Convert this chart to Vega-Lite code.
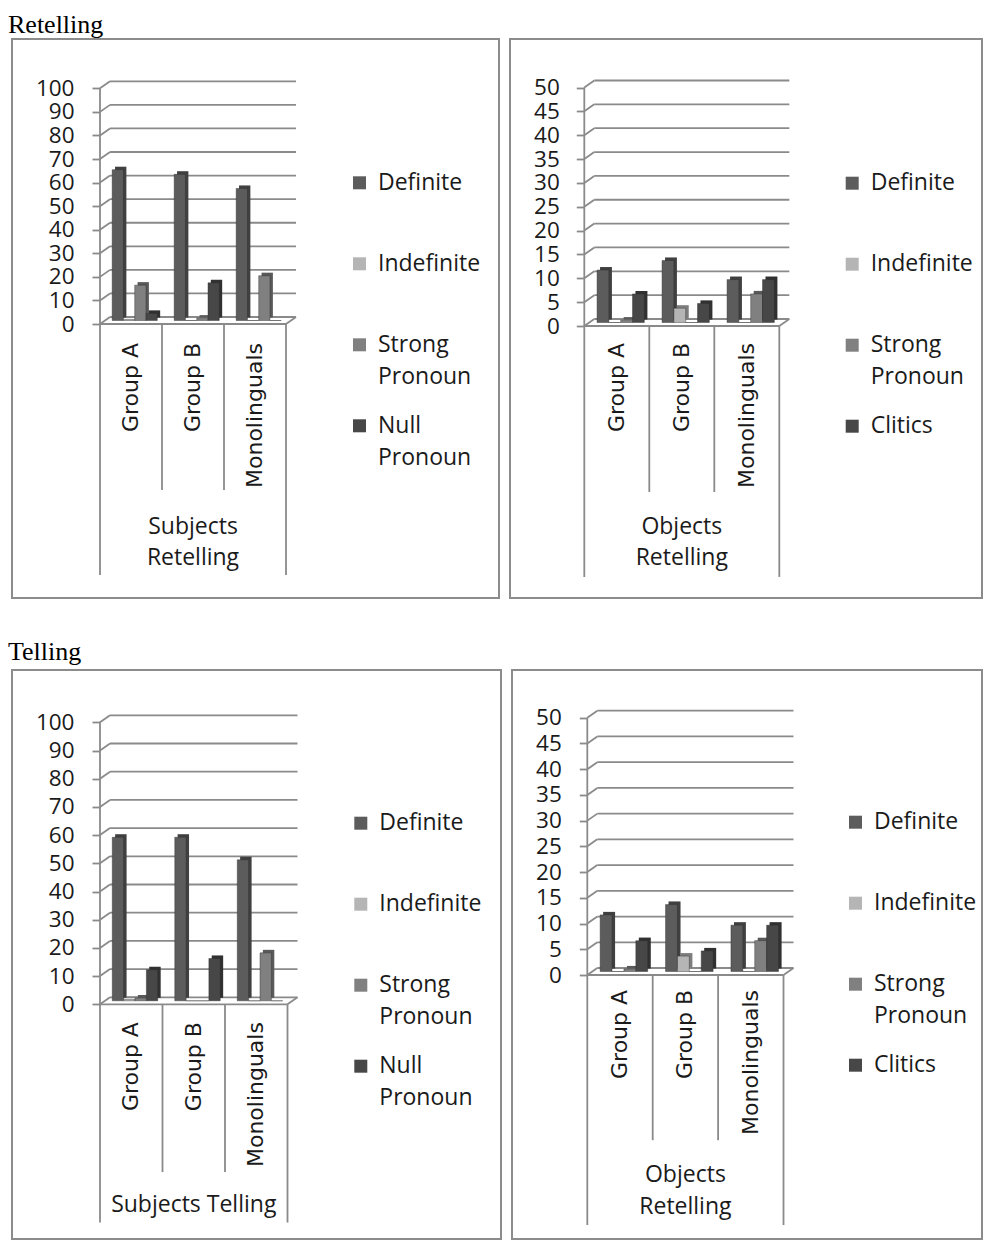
{
  "$schema": "https://vega.github.io/schema/vega-lite/v6.json",
  "padding": {"top": 12, "left": 8, "right": 0, "bottom": 0},
  "config": {
    "view": {"stroke": "#8c8c8c", "strokeWidth": 2},
    "font": "Open Sans",
    "style": {"guide-label": {"lineHeight": 32}}
  },
  "datasets": {
    "subjRet": [
      {"group": "Group A", "series": "Definite", "value": 64},
      {"group": "Group A", "series": "Indefinite", "value": 0.5},
      {"group": "Group A", "series": "Strong Pronoun", "value": 15},
      {"group": "Group A", "series": "Null Pronoun", "value": 3},
      {"group": "Group B", "series": "Definite", "value": 62},
      {"group": "Group B", "series": "Indefinite", "value": 0},
      {"group": "Group B", "series": "Strong Pronoun", "value": 1},
      {"group": "Group B", "series": "Null Pronoun", "value": 16},
      {"group": "Monolinguals", "series": "Definite", "value": 56},
      {"group": "Monolinguals", "series": "Indefinite", "value": 0},
      {"group": "Monolinguals", "series": "Strong Pronoun", "value": 19},
      {"group": "Monolinguals", "series": "Null Pronoun", "value": 0}
    ],
    "objRet": [
      {"group": "Group A", "series": "Definite", "value": 11},
      {"group": "Group A", "series": "Indefinite", "value": 0},
      {"group": "Group A", "series": "Strong Pronoun", "value": 0.5},
      {"group": "Group A", "series": "Clitics", "value": 6},
      {"group": "Group B", "series": "Definite", "value": 13},
      {"group": "Group B", "series": "Indefinite", "value": 3},
      {"group": "Group B", "series": "Strong Pronoun", "value": 0},
      {"group": "Group B", "series": "Clitics", "value": 4},
      {"group": "Monolinguals", "series": "Definite", "value": 9},
      {"group": "Monolinguals", "series": "Indefinite", "value": 0},
      {"group": "Monolinguals", "series": "Strong Pronoun", "value": 6},
      {"group": "Monolinguals", "series": "Clitics", "value": 9}
    ],
    "subjTel": [
      {"group": "Group A", "series": "Definite", "value": 58},
      {"group": "Group A", "series": "Indefinite", "value": 0.5},
      {"group": "Group A", "series": "Strong Pronoun", "value": 1},
      {"group": "Group A", "series": "Null Pronoun", "value": 11},
      {"group": "Group B", "series": "Definite", "value": 58},
      {"group": "Group B", "series": "Indefinite", "value": 0},
      {"group": "Group B", "series": "Strong Pronoun", "value": 0},
      {"group": "Group B", "series": "Null Pronoun", "value": 15},
      {"group": "Monolinguals", "series": "Definite", "value": 50},
      {"group": "Monolinguals", "series": "Indefinite", "value": 0},
      {"group": "Monolinguals", "series": "Strong Pronoun", "value": 17},
      {"group": "Monolinguals", "series": "Null Pronoun", "value": 0}
    ],
    "objTel": [
      {"group": "Group A", "series": "Definite", "value": 11},
      {"group": "Group A", "series": "Indefinite", "value": 0},
      {"group": "Group A", "series": "Strong Pronoun", "value": 0.5},
      {"group": "Group A", "series": "Clitics", "value": 6},
      {"group": "Group B", "series": "Definite", "value": 13},
      {"group": "Group B", "series": "Indefinite", "value": 3},
      {"group": "Group B", "series": "Strong Pronoun", "value": 0},
      {"group": "Group B", "series": "Clitics", "value": 4},
      {"group": "Monolinguals", "series": "Definite", "value": 9},
      {"group": "Monolinguals", "series": "Indefinite", "value": 0},
      {"group": "Monolinguals", "series": "Strong Pronoun", "value": 6},
      {"group": "Monolinguals", "series": "Clitics", "value": 9}
    ],
    "grid100": [{"v": 0}, {"v": 10}, {"v": 20}, {"v": 30}, {"v": 40}, {"v": 50}, {"v": 60}, {"v": 70}, {"v": 80}, {"v": 90}, {"v": 100}],
    "grid50": [{"v": 0}, {"v": 5}, {"v": 10}, {"v": 15}, {"v": 20}, {"v": 25}, {"v": 30}, {"v": 35}, {"v": 40}, {"v": 45}, {"v": 50}],
    "one": [{"k": 1}]
  },
  "spacing": 40,
  "resolve": {"scale": {"x": "independent", "y": "independent", "color": "independent", "xOffset": "independent"}, "legend": {"color": "independent"}},
  "vconcat": [
    {
      "title": {"text": "Retelling", "anchor": "start", "font": "Liberation Serif", "fontSize": 26, "fontWeight": "normal", "color": "#000000", "offset": 0, "dx": -3},
      "spacing": 9,
      "resolve": {"scale": {"x": "independent", "y": "independent", "color": "independent", "xOffset": "independent"}, "legend": {"color": "independent"}},
      "hconcat": [
        {
          "width": 487, "height": 559,
          "resolve": {"scale": {"x": "independent"}},
          "layer": [
            {
              "layer": [
                {"data": {"name": "grid100"},
                 "mark": {"type": "rule", "color": "#8a8a8a", "strokeWidth": 1.8, "xOffset": 10, "x2Offset": 10, "yOffset": -7, "y2Offset": -7},
                 "encoding": {
                   "x": {"datum": 0, "type": "quantitative", "scale": {"domain": [-1.4194, 6.4355], "nice": false, "zero": false}, "axis": null},
                   "x2": {"datum": 3},
                   "y": {"field": "v", "type": "quantitative", "scale": {"domain": [-116.25, 120.92], "nice": false, "zero": false},
                         "axis": {"orient": "left", "values": [0, 10, 20, 30, 40, 50, 60, 70, 80, 90, 100], "offset": -88, "domain": false, "grid": false, "tickSize": 8, "tickColor": "#8a8a8a", "tickWidth": 1.8, "labelPadding": 18, "labelFont": "Open Sans", "labelFontSize": 22.5, "labelColor": "#1a1a1a", "labelOverlap": false, "labelFlush": false, "title": null}},
                   "y2": {"field": "v"}}},
                {"data": {"name": "grid100"},
                 "mark": {"type": "rule", "color": "#8a8a8a", "strokeWidth": 1.8, "x2Offset": 10, "y2Offset": -7},
                 "encoding": {
                   "x": {"datum": 0, "type": "quantitative", "scale": {"domain": [-1.4194, 6.4355], "nice": false, "zero": false}, "axis": null},
                   "x2": {"datum": 0},
                   "y": {"field": "v", "type": "quantitative", "scale": {"domain": [-116.25, 120.92], "nice": false, "zero": false}},
                   "y2": {"field": "v"}}},
                {"data": {"name": "one"},
                 "mark": {"type": "rule", "color": "#8a8a8a", "strokeWidth": 1.8, "x2Offset": 10, "y2Offset": -7},
                 "encoding": {
                   "x": {"datum": 3, "type": "quantitative", "scale": {"domain": [-1.4194, 6.4355], "nice": false, "zero": false}, "axis": null},
                   "x2": {"datum": 3},
                   "y": {"datum": 0, "type": "quantitative", "scale": {"domain": [-116.25, 120.92], "nice": false, "zero": false}},
                   "y2": {"datum": 0}}},
                {"data": {"name": "one"},
                 "mark": {"type": "rule", "color": "#8a8a8a", "strokeWidth": 1.8},
                 "encoding": {
                   "x": {"datum": 0, "type": "quantitative", "scale": {"domain": [-1.4194, 6.4355], "nice": false, "zero": false}, "axis": null},
                   "x2": {"datum": 3},
                   "y": {"datum": 0, "type": "quantitative", "scale": {"domain": [-116.25, 120.92], "nice": false, "zero": false}}}},
                {"data": {"name": "one"},
                 "mark": {"type": "rule", "color": "#8a8a8a", "strokeWidth": 1.8},
                 "encoding": {
                   "x": {"datum": 0, "type": "quantitative", "scale": {"domain": [-1.4194, 6.4355], "nice": false, "zero": false}, "axis": null},
                   "y": {"datum": 100, "type": "quantitative", "scale": {"domain": [-116.25, 120.92], "nice": false, "zero": false}},
                   "y2": {"datum": -106.5}}},
                {"data": {"name": "one"},
                 "mark": {"type": "rule", "color": "#8a8a8a", "strokeWidth": 1.8},
                 "encoding": {
                   "x": {"datum": 3, "type": "quantitative", "scale": {"domain": [-1.4194, 6.4355], "nice": false, "zero": false}, "axis": null},
                   "y": {"datum": 0, "type": "quantitative", "scale": {"domain": [-116.25, 120.92], "nice": false, "zero": false}},
                   "y2": {"datum": -106.5}}},
                {"data": {"name": "one"},
                 "mark": {"type": "rule", "color": "#8a8a8a", "strokeWidth": 1.8},
                 "encoding": {
                   "x": {"datum": 1, "type": "quantitative", "scale": {"domain": [-1.4194, 6.4355], "nice": false, "zero": false}, "axis": null},
                   "y": {"datum": 0, "type": "quantitative", "scale": {"domain": [-116.25, 120.92], "nice": false, "zero": false}},
                   "y2": {"datum": -70.4}}},
                {"data": {"name": "one"},
                 "mark": {"type": "rule", "color": "#8a8a8a", "strokeWidth": 1.8},
                 "encoding": {
                   "x": {"datum": 2, "type": "quantitative", "scale": {"domain": [-1.4194, 6.4355], "nice": false, "zero": false}, "axis": null},
                   "y": {"datum": 0, "type": "quantitative", "scale": {"domain": [-116.25, 120.92], "nice": false, "zero": false}},
                   "y2": {"datum": -70.4}}}
              ]
            },
            {
              "data": {"name": "subjRet"},
              "resolve": {"scale": {"xOffset": "independent"}},
              "layer": [
                {"mark": {"type": "bar", "yOffset": -6.5, "y2Offset": -6.5},
                 "encoding": {
                   "x": {"field": "group", "type": "nominal", "scale": {"type": "band", "domain": ["·L", "Group A", "Group B", "Monolinguals", "·R1", "·R2"], "paddingInner": 0, "paddingOuter": 0.9274, "align": 0.2261}, "axis": null},
                   "xOffset": {"field": "series", "type": "nominal", "scale": {"domain": ["Definite", "Indefinite", "Strong Pronoun", "Null Pronoun"], "paddingInner": 0, "paddingOuter": 0.75, "align": 0.89}},
                   "y": {"field": "value", "type": "quantitative", "scale": {"domain": [-116.25, 120.92], "nice": false, "zero": false}},
                   "y2": {"datum": 0},
                   "color": {"field": "series", "type": "nominal", "scale": {"domain": ["Definite", "Indefinite", "Strong Pronoun", "Null Pronoun"], "range": ["#5c5c5c", "#b5b5b5", "#808080", "#474747"]}}}},
                {"mark": {"type": "bar", "color": "#000000", "opacity": 0.3, "yOffset": -6.5, "y2Offset": -6.5},
                 "encoding": {
                   "x": {"field": "group", "type": "nominal", "scale": {"type": "band", "domain": ["·L", "Group A", "Group B", "Monolinguals", "·R1", "·R2"], "paddingInner": 0, "paddingOuter": 0.9274, "align": 0.2261}, "axis": null},
                   "xOffset": {"field": "series", "type": "nominal", "scale": {"domain": ["Definite", "Indefinite", "Strong Pronoun", "Null Pronoun"], "paddingInner": 0, "paddingOuter": 0.75, "align": 0.89}},
                   "y": {"field": "value", "type": "quantitative", "scale": {"domain": [-116.25, 120.92], "nice": false, "zero": false}},
                   "y2": {"datum": 0}}},
                {"mark": {"type": "bar", "yOffset": -3.5, "y2Offset": -3.5, "stroke": "#2e2e2e", "strokeWidth": 0.6, "strokeOpacity": 0.7},
                 "encoding": {
                   "x": {"field": "group", "type": "nominal", "scale": {"type": "band", "domain": ["·L", "Group A", "Group B", "Monolinguals", "·R1", "·R2"], "paddingInner": 0, "paddingOuter": 0.9274, "align": 0.2261}, "axis": null},
                   "xOffset": {"field": "series", "type": "nominal", "scale": {"domain": ["Definite", "Indefinite", "Strong Pronoun", "Null Pronoun"], "paddingInner": 0, "paddingOuter": 0.75, "align": 0.72}},
                   "y": {"field": "value", "type": "quantitative", "scale": {"domain": [-116.25, 120.92], "nice": false, "zero": false}},
                   "y2": {"datum": 0},
                   "color": {"field": "series", "type": "nominal", "scale": {"domain": ["Definite", "Indefinite", "Strong Pronoun", "Null Pronoun"], "range": ["#5c5c5c", "#b5b5b5", "#808080", "#474747"]},
                     "legend": {"orient": "none", "legendX": 336, "legendY": 132.3, "direction": "vertical", "title": null, "padding": 0, "symbolType": "square", "symbolSize": 169, "symbolStrokeWidth": 0, "labelFont": "Open Sans", "labelFontSize": 23, "labelColor": "#1a1a1a", "labelOffset": 7, "labelLimit": 300, "labelExpr": "split(datum.label, ' ')", "rowPadding": 25, "gridAlign": "all"}}}},
                {"transform": [{"filter": "datum.series === 'Definite'"}],
                 "mark": {"type": "text", "angle": 270, "align": "right", "baseline": "middle", "font": "DejaVu Sans", "fontSize": 22, "color": "#1a1a1a"},
                 "encoding": {
                   "x": {"field": "group", "type": "nominal", "scale": {"type": "band", "domain": ["·L", "Group A", "Group B", "Monolinguals", "·R1", "·R2"], "paddingInner": 0, "paddingOuter": 0.9274, "align": 0.2261}, "axis": null},
                   "y": {"datum": -8.06, "type": "quantitative", "scale": {"domain": [-116.25, 120.92], "nice": false, "zero": false}},
                   "text": {"field": "group"}}},
                {"data": {"name": "one"},
                 "mark": {"type": "text", "font": "Open Sans", "fontSize": 23, "color": "#1a1a1a", "lineBreak": "\n", "lineHeight": 31, "align": "center", "baseline": "middle"},
                 "encoding": {
                   "x": {"datum": "Group B", "type": "nominal", "scale": {"type": "band", "domain": ["·L", "Group A", "Group B", "Monolinguals", "·R1", "·R2"], "paddingInner": 0, "paddingOuter": 0.9274, "align": 0.2261}, "axis": null},
                   "y": {"datum": -86.1, "type": "quantitative", "scale": {"domain": [-116.25, 120.92], "nice": false, "zero": false}},
                   "text": {"value": "Subjects\nRetelling"}}}
              ]
            }
          ]
        },
        {
          "width": 472, "height": 559,
          "resolve": {"scale": {"x": "independent"}},
          "layer": [
            {
              "layer": [
                {"data": {"name": "grid50"},
                 "mark": {"type": "rule", "color": "#8a8a8a", "strokeWidth": 1.8, "xOffset": 10, "x2Offset": 10, "yOffset": -7, "y2Offset": -7},
                 "encoding": {
                   "x": {"datum": 0, "type": "quantitative", "scale": {"domain": [-1.1431, 6.1185], "nice": false, "zero": false}, "axis": null},
                   "x2": {"datum": 3},
                   "y": {"field": "v", "type": "quantitative", "scale": {"domain": [-57.02, 60.17], "nice": false, "zero": false},
                         "axis": {"orient": "left", "values": [0, 5, 10, 15, 20, 25, 30, 35, 40, 45, 50], "offset": -74.3, "domain": false, "grid": false, "tickSize": 8, "tickColor": "#8a8a8a", "tickWidth": 1.8, "labelPadding": 17, "labelFont": "Open Sans", "labelFontSize": 22.5, "labelColor": "#1a1a1a", "labelOverlap": false, "labelFlush": false, "title": null}},
                   "y2": {"field": "v"}}},
                {"data": {"name": "grid50"},
                 "mark": {"type": "rule", "color": "#8a8a8a", "strokeWidth": 1.8, "x2Offset": 10, "y2Offset": -7},
                 "encoding": {
                   "x": {"datum": 0, "type": "quantitative", "scale": {"domain": [-1.1431, 6.1185], "nice": false, "zero": false}, "axis": null},
                   "x2": {"datum": 0},
                   "y": {"field": "v", "type": "quantitative", "scale": {"domain": [-57.02, 60.17], "nice": false, "zero": false}},
                   "y2": {"field": "v"}}},
                {"data": {"name": "one"},
                 "mark": {"type": "rule", "color": "#8a8a8a", "strokeWidth": 1.8, "x2Offset": 10, "y2Offset": -7},
                 "encoding": {
                   "x": {"datum": 3, "type": "quantitative", "scale": {"domain": [-1.1431, 6.1185], "nice": false, "zero": false}, "axis": null},
                   "x2": {"datum": 3},
                   "y": {"datum": 0, "type": "quantitative", "scale": {"domain": [-57.02, 60.17], "nice": false, "zero": false}},
                   "y2": {"datum": 0}}},
                {"data": {"name": "one"},
                 "mark": {"type": "rule", "color": "#8a8a8a", "strokeWidth": 1.8},
                 "encoding": {
                   "x": {"datum": 0, "type": "quantitative", "scale": {"domain": [-1.1431, 6.1185], "nice": false, "zero": false}, "axis": null},
                   "x2": {"datum": 3},
                   "y": {"datum": 0, "type": "quantitative", "scale": {"domain": [-57.02, 60.17], "nice": false, "zero": false}}}},
                {"data": {"name": "one"},
                 "mark": {"type": "rule", "color": "#8a8a8a", "strokeWidth": 1.8},
                 "encoding": {
                   "x": {"datum": 0, "type": "quantitative", "scale": {"domain": [-1.1431, 6.1185], "nice": false, "zero": false}, "axis": null},
                   "y": {"datum": 50, "type": "quantitative", "scale": {"domain": [-57.02, 60.17], "nice": false, "zero": false}},
                   "y2": {"datum": -52.6}}},
                {"data": {"name": "one"},
                 "mark": {"type": "rule", "color": "#8a8a8a", "strokeWidth": 1.8},
                 "encoding": {
                   "x": {"datum": 3, "type": "quantitative", "scale": {"domain": [-1.1431, 6.1185], "nice": false, "zero": false}, "axis": null},
                   "y": {"datum": 0, "type": "quantitative", "scale": {"domain": [-57.02, 60.17], "nice": false, "zero": false}},
                   "y2": {"datum": -52.6}}},
                {"data": {"name": "one"},
                 "mark": {"type": "rule", "color": "#8a8a8a", "strokeWidth": 1.8},
                 "encoding": {
                   "x": {"datum": 1, "type": "quantitative", "scale": {"domain": [-1.1431, 6.1185], "nice": false, "zero": false}, "axis": null},
                   "y": {"datum": 0, "type": "quantitative", "scale": {"domain": [-57.02, 60.17], "nice": false, "zero": false}},
                   "y2": {"datum": -34.8}}},
                {"data": {"name": "one"},
                 "mark": {"type": "rule", "color": "#8a8a8a", "strokeWidth": 1.8},
                 "encoding": {
                   "x": {"datum": 2, "type": "quantitative", "scale": {"domain": [-1.1431, 6.1185], "nice": false, "zero": false}, "axis": null},
                   "y": {"datum": 0, "type": "quantitative", "scale": {"domain": [-57.02, 60.17], "nice": false, "zero": false}},
                   "y2": {"datum": -34.8}}}
              ]
            },
            {
              "data": {"name": "objRet"},
              "resolve": {"scale": {"xOffset": "independent"}},
              "layer": [
                {"mark": {"type": "bar", "yOffset": -6.5, "y2Offset": -6.5},
                 "encoding": {
                   "x": {"field": "group", "type": "nominal", "scale": {"type": "band", "domain": ["·L", "Group A", "Group B", "Monolinguals", "·R1", "·R2"], "paddingInner": 0, "paddingOuter": 0.6308, "align": 0.1134}, "axis": null},
                   "xOffset": {"field": "series", "type": "nominal", "scale": {"domain": ["Definite", "Indefinite", "Strong Pronoun", "Clitics"], "paddingInner": 0, "paddingOuter": 0.75, "align": 0.89}},
                   "y": {"field": "value", "type": "quantitative", "scale": {"domain": [-57.02, 60.17], "nice": false, "zero": false}},
                   "y2": {"datum": 0},
                   "color": {"field": "series", "type": "nominal", "scale": {"domain": ["Definite", "Indefinite", "Strong Pronoun", "Clitics"], "range": ["#5c5c5c", "#b5b5b5", "#808080", "#474747"]}}}},
                {"mark": {"type": "bar", "color": "#000000", "opacity": 0.3, "yOffset": -6.5, "y2Offset": -6.5},
                 "encoding": {
                   "x": {"field": "group", "type": "nominal", "scale": {"type": "band", "domain": ["·L", "Group A", "Group B", "Monolinguals", "·R1", "·R2"], "paddingInner": 0, "paddingOuter": 0.6308, "align": 0.1134}, "axis": null},
                   "xOffset": {"field": "series", "type": "nominal", "scale": {"domain": ["Definite", "Indefinite", "Strong Pronoun", "Clitics"], "paddingInner": 0, "paddingOuter": 0.75, "align": 0.89}},
                   "y": {"field": "value", "type": "quantitative", "scale": {"domain": [-57.02, 60.17], "nice": false, "zero": false}},
                   "y2": {"datum": 0}}},
                {"mark": {"type": "bar", "yOffset": -3.5, "y2Offset": -3.5, "stroke": "#2e2e2e", "strokeWidth": 0.6, "strokeOpacity": 0.7},
                 "encoding": {
                   "x": {"field": "group", "type": "nominal", "scale": {"type": "band", "domain": ["·L", "Group A", "Group B", "Monolinguals", "·R1", "·R2"], "paddingInner": 0, "paddingOuter": 0.6308, "align": 0.1134}, "axis": null},
                   "xOffset": {"field": "series", "type": "nominal", "scale": {"domain": ["Definite", "Indefinite", "Strong Pronoun", "Clitics"], "paddingInner": 0, "paddingOuter": 0.75, "align": 0.72}},
                   "y": {"field": "value", "type": "quantitative", "scale": {"domain": [-57.02, 60.17], "nice": false, "zero": false}},
                   "y2": {"datum": 0},
                   "color": {"field": "series", "type": "nominal", "scale": {"domain": ["Definite", "Indefinite", "Strong Pronoun", "Clitics"], "range": ["#5c5c5c", "#b5b5b5", "#808080", "#474747"]},
                     "legend": {"orient": "none", "legendX": 330.7, "legendY": 132.7, "direction": "vertical", "title": null, "padding": 0, "symbolType": "square", "symbolSize": 169, "symbolStrokeWidth": 0, "labelFont": "Open Sans", "labelFontSize": 23, "labelColor": "#1a1a1a", "labelOffset": 7, "labelLimit": 300, "labelExpr": "split(datum.label, ' ')", "rowPadding": 25, "gridAlign": "all"}}}},
                {"transform": [{"filter": "datum.series === 'Definite'"}],
                 "mark": {"type": "text", "angle": 270, "align": "right", "baseline": "middle", "font": "DejaVu Sans", "fontSize": 22, "color": "#1a1a1a"},
                 "encoding": {
                   "x": {"field": "group", "type": "nominal", "scale": {"type": "band", "domain": ["·L", "Group A", "Group B", "Monolinguals", "·R1", "·R2"], "paddingInner": 0, "paddingOuter": 0.6308, "align": 0.1134}, "axis": null},
                   "y": {"datum": -3.56, "type": "quantitative", "scale": {"domain": [-57.02, 60.17], "nice": false, "zero": false}},
                   "text": {"field": "group"}}},
                {"data": {"name": "one"},
                 "mark": {"type": "text", "font": "Open Sans", "fontSize": 23, "color": "#1a1a1a", "lineBreak": "\n", "lineHeight": 31, "align": "center", "baseline": "middle"},
                 "encoding": {
                   "x": {"datum": "Group B", "type": "nominal", "scale": {"type": "band", "domain": ["·L", "Group A", "Group B", "Monolinguals", "·R1", "·R2"], "paddingInner": 0, "paddingOuter": 0.6308, "align": 0.1134}, "axis": null},
                   "y": {"datum": -42.1, "type": "quantitative", "scale": {"domain": [-57.02, 60.17], "nice": false, "zero": false}},
                   "text": {"value": "Objects\nRetelling"}}}
              ]
            }
          ]
        }
      ]
    },
    {
      "title": {"text": "Telling", "anchor": "start", "font": "Liberation Serif", "fontSize": 26, "fontWeight": "normal", "color": "#000000", "offset": 4, "dx": -3},
      "spacing": 9,
      "resolve": {"scale": {"x": "independent", "y": "independent", "color": "independent", "xOffset": "independent"}, "legend": {"color": "independent"}},
      "hconcat": [
        {
          "width": 489, "height": 569,
          "resolve": {"scale": {"x": "independent"}},
          "layer": [
            {
              "layer": [
                {"data": {"name": "grid100"},
                 "mark": {"type": "rule", "color": "#8a8a8a", "strokeWidth": 1.8, "xOffset": 10, "x2Offset": 10, "yOffset": -7, "y2Offset": -7},
                 "encoding": {
                   "x": {"datum": 0, "type": "quantitative", "scale": {"domain": [-1.408, 6.416], "nice": false, "zero": false}, "axis": null},
                   "x2": {"datum": 3},
                   "y": {"field": "v", "type": "quantitative", "scale": {"domain": [-83.23, 118.55], "nice": false, "zero": false},
                         "axis": {"orient": "left", "values": [0, 10, 20, 30, 40, 50, 60, 70, 80, 90, 100], "offset": -88, "domain": false, "grid": false, "tickSize": 8, "tickColor": "#8a8a8a", "tickWidth": 1.8, "labelPadding": 18, "labelFont": "Open Sans", "labelFontSize": 22.5, "labelColor": "#1a1a1a", "labelOverlap": false, "labelFlush": false, "title": null}},
                   "y2": {"field": "v"}}},
                {"data": {"name": "grid100"},
                 "mark": {"type": "rule", "color": "#8a8a8a", "strokeWidth": 1.8, "x2Offset": 10, "y2Offset": -7},
                 "encoding": {
                   "x": {"datum": 0, "type": "quantitative", "scale": {"domain": [-1.408, 6.416], "nice": false, "zero": false}, "axis": null},
                   "x2": {"datum": 0},
                   "y": {"field": "v", "type": "quantitative", "scale": {"domain": [-83.23, 118.55], "nice": false, "zero": false}},
                   "y2": {"field": "v"}}},
                {"data": {"name": "one"},
                 "mark": {"type": "rule", "color": "#8a8a8a", "strokeWidth": 1.8, "x2Offset": 10, "y2Offset": -7},
                 "encoding": {
                   "x": {"datum": 3, "type": "quantitative", "scale": {"domain": [-1.408, 6.416], "nice": false, "zero": false}, "axis": null},
                   "x2": {"datum": 3},
                   "y": {"datum": 0, "type": "quantitative", "scale": {"domain": [-83.23, 118.55], "nice": false, "zero": false}},
                   "y2": {"datum": 0}}},
                {"data": {"name": "one"},
                 "mark": {"type": "rule", "color": "#8a8a8a", "strokeWidth": 1.8},
                 "encoding": {
                   "x": {"datum": 0, "type": "quantitative", "scale": {"domain": [-1.408, 6.416], "nice": false, "zero": false}, "axis": null},
                   "x2": {"datum": 3},
                   "y": {"datum": 0, "type": "quantitative", "scale": {"domain": [-83.23, 118.55], "nice": false, "zero": false}}}},
                {"data": {"name": "one"},
                 "mark": {"type": "rule", "color": "#8a8a8a", "strokeWidth": 1.8},
                 "encoding": {
                   "x": {"datum": 0, "type": "quantitative", "scale": {"domain": [-1.408, 6.416], "nice": false, "zero": false}, "axis": null},
                   "y": {"datum": 100, "type": "quantitative", "scale": {"domain": [-83.23, 118.55], "nice": false, "zero": false}},
                   "y2": {"datum": -77.4}}},
                {"data": {"name": "one"},
                 "mark": {"type": "rule", "color": "#8a8a8a", "strokeWidth": 1.8},
                 "encoding": {
                   "x": {"datum": 3, "type": "quantitative", "scale": {"domain": [-1.408, 6.416], "nice": false, "zero": false}, "axis": null},
                   "y": {"datum": 0, "type": "quantitative", "scale": {"domain": [-83.23, 118.55], "nice": false, "zero": false}},
                   "y2": {"datum": -77.4}}},
                {"data": {"name": "one"},
                 "mark": {"type": "rule", "color": "#8a8a8a", "strokeWidth": 1.8},
                 "encoding": {
                   "x": {"datum": 1, "type": "quantitative", "scale": {"domain": [-1.408, 6.416], "nice": false, "zero": false}, "axis": null},
                   "y": {"datum": 0, "type": "quantitative", "scale": {"domain": [-83.23, 118.55], "nice": false, "zero": false}},
                   "y2": {"datum": -59.5}}},
                {"data": {"name": "one"},
                 "mark": {"type": "rule", "color": "#8a8a8a", "strokeWidth": 1.8},
                 "encoding": {
                   "x": {"datum": 2, "type": "quantitative", "scale": {"domain": [-1.408, 6.416], "nice": false, "zero": false}, "axis": null},
                   "y": {"datum": 0, "type": "quantitative", "scale": {"domain": [-83.23, 118.55], "nice": false, "zero": false}},
                   "y2": {"datum": -59.5}}}
              ]
            },
            {
              "data": {"name": "subjTel"},
              "resolve": {"scale": {"xOffset": "independent"}},
              "layer": [
                {"mark": {"type": "bar", "yOffset": -6.5, "y2Offset": -6.5},
                 "encoding": {
                   "x": {"field": "group", "type": "nominal", "scale": {"type": "band", "domain": ["·L", "Group A", "Group B", "Monolinguals", "·R1", "·R2"], "paddingInner": 0, "paddingOuter": 0.912, "align": 0.2237}, "axis": null},
                   "xOffset": {"field": "series", "type": "nominal", "scale": {"domain": ["Definite", "Indefinite", "Strong Pronoun", "Null Pronoun"], "paddingInner": 0, "paddingOuter": 0.75, "align": 0.89}},
                   "y": {"field": "value", "type": "quantitative", "scale": {"domain": [-83.23, 118.55], "nice": false, "zero": false}},
                   "y2": {"datum": 0},
                   "color": {"field": "series", "type": "nominal", "scale": {"domain": ["Definite", "Indefinite", "Strong Pronoun", "Null Pronoun"], "range": ["#5c5c5c", "#b5b5b5", "#808080", "#474747"]}}}},
                {"mark": {"type": "bar", "color": "#000000", "opacity": 0.3, "yOffset": -6.5, "y2Offset": -6.5},
                 "encoding": {
                   "x": {"field": "group", "type": "nominal", "scale": {"type": "band", "domain": ["·L", "Group A", "Group B", "Monolinguals", "·R1", "·R2"], "paddingInner": 0, "paddingOuter": 0.912, "align": 0.2237}, "axis": null},
                   "xOffset": {"field": "series", "type": "nominal", "scale": {"domain": ["Definite", "Indefinite", "Strong Pronoun", "Null Pronoun"], "paddingInner": 0, "paddingOuter": 0.75, "align": 0.89}},
                   "y": {"field": "value", "type": "quantitative", "scale": {"domain": [-83.23, 118.55], "nice": false, "zero": false}},
                   "y2": {"datum": 0}}},
                {"mark": {"type": "bar", "yOffset": -3.5, "y2Offset": -3.5, "stroke": "#2e2e2e", "strokeWidth": 0.6, "strokeOpacity": 0.7},
                 "encoding": {
                   "x": {"field": "group", "type": "nominal", "scale": {"type": "band", "domain": ["·L", "Group A", "Group B", "Monolinguals", "·R1", "·R2"], "paddingInner": 0, "paddingOuter": 0.912, "align": 0.2237}, "axis": null},
                   "xOffset": {"field": "series", "type": "nominal", "scale": {"domain": ["Definite", "Indefinite", "Strong Pronoun", "Null Pronoun"], "paddingInner": 0, "paddingOuter": 0.75, "align": 0.72}},
                   "y": {"field": "value", "type": "quantitative", "scale": {"domain": [-83.23, 118.55], "nice": false, "zero": false}},
                   "y2": {"datum": 0},
                   "color": {"field": "series", "type": "nominal", "scale": {"domain": ["Definite", "Indefinite", "Strong Pronoun", "Null Pronoun"], "range": ["#5c5c5c", "#b5b5b5", "#808080", "#474747"]},
                     "legend": {"orient": "none", "legendX": 337.3, "legendY": 141.7, "direction": "vertical", "title": null, "padding": 0, "symbolType": "square", "symbolSize": 169, "symbolStrokeWidth": 0, "labelFont": "Open Sans", "labelFontSize": 23, "labelColor": "#1a1a1a", "labelOffset": 7, "labelLimit": 300, "labelExpr": "split(datum.label, ' ')", "rowPadding": 25, "gridAlign": "all"}}}},
                {"transform": [{"filter": "datum.series === 'Definite'"}],
                 "mark": {"type": "text", "angle": 270, "align": "right", "baseline": "middle", "font": "DejaVu Sans", "fontSize": 22, "color": "#1a1a1a"},
                 "encoding": {
                   "x": {"field": "group", "type": "nominal", "scale": {"type": "band", "domain": ["·L", "Group A", "Group B", "Monolinguals", "·R1", "·R2"], "paddingInner": 0, "paddingOuter": 0.912, "align": 0.2237}, "axis": null},
                   "y": {"datum": -6.3, "type": "quantitative", "scale": {"domain": [-83.23, 118.55], "nice": false, "zero": false}},
                   "text": {"field": "group"}}},
                {"data": {"name": "one"},
                 "mark": {"type": "text", "font": "Open Sans", "fontSize": 23, "color": "#1a1a1a", "align": "center", "baseline": "middle"},
                 "encoding": {
                   "x": {"datum": "Group B", "type": "nominal", "scale": {"type": "band", "domain": ["·L", "Group A", "Group B", "Monolinguals", "·R1", "·R2"], "paddingInner": 0, "paddingOuter": 0.912, "align": 0.2237}, "axis": null},
                   "y": {"datum": -71.2, "type": "quantitative", "scale": {"domain": [-83.23, 118.55], "nice": false, "zero": false}},
                   "text": {"value": "Subjects Telling"}}}
              ]
            }
          ]
        },
        {
          "width": 470, "height": 569,
          "resolve": {"scale": {"x": "independent"}},
          "layer": [
            {
              "layer": [
                {"data": {"name": "grid50"},
                 "mark": {"type": "rule", "color": "#8a8a8a", "strokeWidth": 1.8, "xOffset": 10, "x2Offset": 10, "yOffset": -7, "y2Offset": -7},
                 "encoding": {
                   "x": {"datum": 0, "type": "quantitative", "scale": {"domain": [-1.1514, 6.035], "nice": false, "zero": false}, "axis": null},
                   "x2": {"datum": 3},
                   "y": {"field": "v", "type": "quantitative", "scale": {"domain": [-51.3, 59.27], "nice": false, "zero": false},
                         "axis": {"orient": "left", "values": [0, 5, 10, 15, 20, 25, 30, 35, 40, 45, 50], "offset": -75.3, "domain": false, "grid": false, "tickSize": 8, "tickColor": "#8a8a8a", "tickWidth": 1.8, "labelPadding": 18, "labelFont": "Open Sans", "labelFontSize": 22.5, "labelColor": "#1a1a1a", "labelOverlap": false, "labelFlush": false, "title": null}},
                   "y2": {"field": "v"}}},
                {"data": {"name": "grid50"},
                 "mark": {"type": "rule", "color": "#8a8a8a", "strokeWidth": 1.8, "x2Offset": 10, "y2Offset": -7},
                 "encoding": {
                   "x": {"datum": 0, "type": "quantitative", "scale": {"domain": [-1.1514, 6.035], "nice": false, "zero": false}, "axis": null},
                   "x2": {"datum": 0},
                   "y": {"field": "v", "type": "quantitative", "scale": {"domain": [-51.3, 59.27], "nice": false, "zero": false}},
                   "y2": {"field": "v"}}},
                {"data": {"name": "one"},
                 "mark": {"type": "rule", "color": "#8a8a8a", "strokeWidth": 1.8, "x2Offset": 10, "y2Offset": -7},
                 "encoding": {
                   "x": {"datum": 3, "type": "quantitative", "scale": {"domain": [-1.1514, 6.035], "nice": false, "zero": false}, "axis": null},
                   "x2": {"datum": 3},
                   "y": {"datum": 0, "type": "quantitative", "scale": {"domain": [-51.3, 59.27], "nice": false, "zero": false}},
                   "y2": {"datum": 0}}},
                {"data": {"name": "one"},
                 "mark": {"type": "rule", "color": "#8a8a8a", "strokeWidth": 1.8},
                 "encoding": {
                   "x": {"datum": 0, "type": "quantitative", "scale": {"domain": [-1.1514, 6.035], "nice": false, "zero": false}, "axis": null},
                   "x2": {"datum": 3},
                   "y": {"datum": 0, "type": "quantitative", "scale": {"domain": [-51.3, 59.27], "nice": false, "zero": false}}}},
                {"data": {"name": "one"},
                 "mark": {"type": "rule", "color": "#8a8a8a", "strokeWidth": 1.8},
                 "encoding": {
                   "x": {"datum": 0, "type": "quantitative", "scale": {"domain": [-1.1514, 6.035], "nice": false, "zero": false}, "axis": null},
                   "y": {"datum": 50, "type": "quantitative", "scale": {"domain": [-51.3, 59.27], "nice": false, "zero": false}},
                   "y2": {"datum": -48.6}}},
                {"data": {"name": "one"},
                 "mark": {"type": "rule", "color": "#8a8a8a", "strokeWidth": 1.8},
                 "encoding": {
                   "x": {"datum": 3, "type": "quantitative", "scale": {"domain": [-1.1514, 6.035], "nice": false, "zero": false}, "axis": null},
                   "y": {"datum": 0, "type": "quantitative", "scale": {"domain": [-51.3, 59.27], "nice": false, "zero": false}},
                   "y2": {"datum": -48.6}}},
                {"data": {"name": "one"},
                 "mark": {"type": "rule", "color": "#8a8a8a", "strokeWidth": 1.8},
                 "encoding": {
                   "x": {"datum": 1, "type": "quantitative", "scale": {"domain": [-1.1514, 6.035], "nice": false, "zero": false}, "axis": null},
                   "y": {"datum": 0, "type": "quantitative", "scale": {"domain": [-51.3, 59.27], "nice": false, "zero": false}},
                   "y2": {"datum": -32.1}}},
                {"data": {"name": "one"},
                 "mark": {"type": "rule", "color": "#8a8a8a", "strokeWidth": 1.8},
                 "encoding": {
                   "x": {"datum": 2, "type": "quantitative", "scale": {"domain": [-1.1514, 6.035], "nice": false, "zero": false}, "axis": null},
                   "y": {"datum": 0, "type": "quantitative", "scale": {"domain": [-51.3, 59.27], "nice": false, "zero": false}},
                   "y2": {"datum": -32.1}}}
              ]
            },
            {
              "data": {"name": "objTel"},
              "resolve": {"scale": {"xOffset": "independent"}},
              "layer": [
                {"mark": {"type": "bar", "yOffset": -6.5, "y2Offset": -6.5},
                 "encoding": {
                   "x": {"field": "group", "type": "nominal", "scale": {"type": "band", "domain": ["·L", "Group A", "Group B", "Monolinguals", "·R1", "·R2"], "paddingInner": 0, "paddingOuter": 0.5933, "align": 0.1276}, "axis": null},
                   "xOffset": {"field": "series", "type": "nominal", "scale": {"domain": ["Definite", "Indefinite", "Strong Pronoun", "Clitics"], "paddingInner": 0, "paddingOuter": 0.75, "align": 0.89}},
                   "y": {"field": "value", "type": "quantitative", "scale": {"domain": [-51.3, 59.27], "nice": false, "zero": false}},
                   "y2": {"datum": 0},
                   "color": {"field": "series", "type": "nominal", "scale": {"domain": ["Definite", "Indefinite", "Strong Pronoun", "Clitics"], "range": ["#5c5c5c", "#b5b5b5", "#808080", "#474747"]}}}},
                {"mark": {"type": "bar", "color": "#000000", "opacity": 0.3, "yOffset": -6.5, "y2Offset": -6.5},
                 "encoding": {
                   "x": {"field": "group", "type": "nominal", "scale": {"type": "band", "domain": ["·L", "Group A", "Group B", "Monolinguals", "·R1", "·R2"], "paddingInner": 0, "paddingOuter": 0.5933, "align": 0.1276}, "axis": null},
                   "xOffset": {"field": "series", "type": "nominal", "scale": {"domain": ["Definite", "Indefinite", "Strong Pronoun", "Clitics"], "paddingInner": 0, "paddingOuter": 0.75, "align": 0.89}},
                   "y": {"field": "value", "type": "quantitative", "scale": {"domain": [-51.3, 59.27], "nice": false, "zero": false}},
                   "y2": {"datum": 0}}},
                {"mark": {"type": "bar", "yOffset": -3.5, "y2Offset": -3.5, "stroke": "#2e2e2e", "strokeWidth": 0.6, "strokeOpacity": 0.7},
                 "encoding": {
                   "x": {"field": "group", "type": "nominal", "scale": {"type": "band", "domain": ["·L", "Group A", "Group B", "Monolinguals", "·R1", "·R2"], "paddingInner": 0, "paddingOuter": 0.5933, "align": 0.1276}, "axis": null},
                   "xOffset": {"field": "series", "type": "nominal", "scale": {"domain": ["Definite", "Indefinite", "Strong Pronoun", "Clitics"], "paddingInner": 0, "paddingOuter": 0.75, "align": 0.72}},
                   "y": {"field": "value", "type": "quantitative", "scale": {"domain": [-51.3, 59.27], "nice": false, "zero": false}},
                   "y2": {"datum": 0},
                   "color": {"field": "series", "type": "nominal", "scale": {"domain": ["Definite", "Indefinite", "Strong Pronoun", "Clitics"], "range": ["#5c5c5c", "#b5b5b5", "#808080", "#474747"]},
                     "legend": {"orient": "none", "legendX": 332, "legendY": 140.7, "direction": "vertical", "title": null, "padding": 0, "symbolType": "square", "symbolSize": 169, "symbolStrokeWidth": 0, "labelFont": "Open Sans", "labelFontSize": 23, "labelColor": "#1a1a1a", "labelOffset": 7, "labelLimit": 300, "labelExpr": "split(datum.label, ' ')", "rowPadding": 25, "gridAlign": "all"}}}},
                {"transform": [{"filter": "datum.series === 'Definite'"}],
                 "mark": {"type": "text", "angle": 270, "align": "right", "baseline": "middle", "font": "DejaVu Sans", "fontSize": 22, "color": "#1a1a1a"},
                 "encoding": {
                   "x": {"field": "group", "type": "nominal", "scale": {"type": "band", "domain": ["·L", "Group A", "Group B", "Monolinguals", "·R1", "·R2"], "paddingInner": 0, "paddingOuter": 0.5933, "align": 0.1276}, "axis": null},
                   "y": {"datum": -2.9, "type": "quantitative", "scale": {"domain": [-51.3, 59.27], "nice": false, "zero": false}},
                   "text": {"field": "group"}}},
                {"data": {"name": "one"},
                 "mark": {"type": "text", "font": "Open Sans", "fontSize": 23, "color": "#1a1a1a", "lineBreak": "\n", "lineHeight": 32, "align": "center", "baseline": "middle"},
                 "encoding": {
                   "x": {"datum": "Group B", "type": "nominal", "scale": {"type": "band", "domain": ["·L", "Group A", "Group B", "Monolinguals", "·R1", "·R2"], "paddingInner": 0, "paddingOuter": 0.5933, "align": 0.1276}, "axis": null},
                   "y": {"datum": -38.9, "type": "quantitative", "scale": {"domain": [-51.3, 59.27], "nice": false, "zero": false}},
                   "text": {"value": "Objects\nRetelling"}}}
              ]
            }
          ]
        }
      ]
    }
  ]
}
